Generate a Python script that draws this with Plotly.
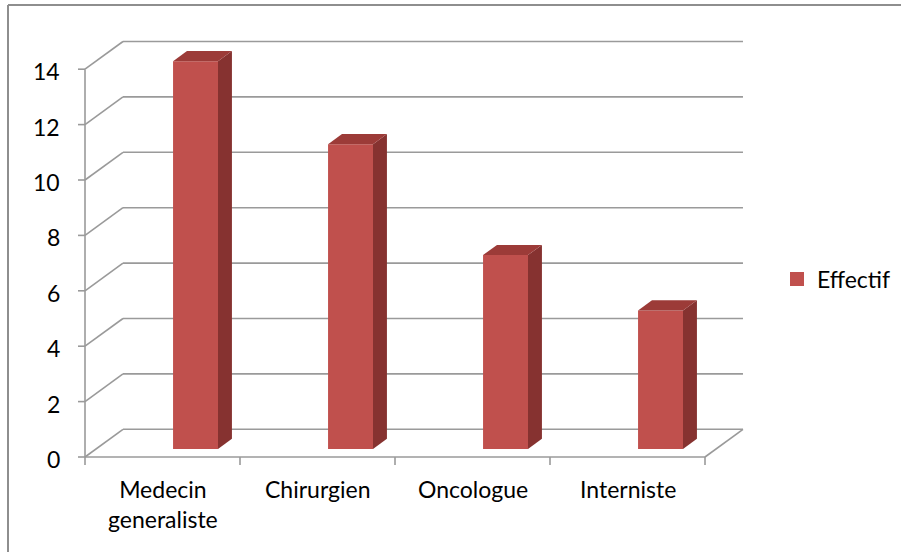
import plotly.graph_objects as go

# ---- data -------------------------------------------------------------
categories = ["Medecin<br>generaliste", "Chirurgien", "Oncologue", "Interniste"]
effectif = [14, 11, 7, 5]
y_ticks = [0, 2, 4, 6, 8, 10, 12, 14]
series_name = "Effectif"

# ---- styling ----------------------------------------------------------
FONT = "Lato"
FONT_SIZE = 23
FRONT = "#C0504D"
SIDE = "#863230"
TOP = "#9C3B38"
GRID = "#9A9A9A"
BORDER = "#8E8E8E"

W, H = 901, 552
PX_X, PX_Y = 155.0, 27.7          # pixels per category / per unit of value
ORIGIN = (85, 457)                # pixel position of (x=0, y=0) on the front plane

# oblique projection of the depth axis (0 = front, 1 = back wall)
DX, DY = 0.245, 1.0


def proj(x, y, d):
    return x + d * DX, y + d * DY


# bar placement within a category slot and along depth
BAR_X0, BAR_W = 0.497, 0.29
BAR_D0, BAR_D1 = 0.29, 0.657

n = len(categories)
y_top = max(y_ticks)

fig = go.Figure()


def poly(points, color):
    xs = [p[0] for p in points] + [points[0][0]]
    ys = [p[1] for p in points] + [points[0][1]]
    fig.add_trace(go.Scatter(x=xs, y=ys, mode="lines", fill="toself",
                             fillcolor=color, line=dict(width=0, color=color),
                             hoverinfo="skip", showlegend=False))


def lines(segments, color, width):
    xs, ys = [], []
    for (a, b) in segments:
        xs += [a[0], b[0], None]
        ys += [a[1], b[1], None]
    fig.add_trace(go.Scatter(x=xs, y=ys, mode="lines",
                             line=dict(color=color, width=width),
                             hoverinfo="skip", showlegend=False))


# ---- walls and floor --------------------------------------------------
segs = []
for v in y_ticks:
    segs.append((proj(0, v, 0), proj(0, v, 1)))        # side wall
    segs.append((proj(0, v, 1), proj(n, v, 1)))        # back wall
segs.append((proj(0, 0, 0), proj(n, 0, 0)))           # floor front edge
segs.append((proj(n, 0, 0), proj(n, 0, 1)))           # floor right edge
segs.append((proj(0, 0, 0), proj(0, y_top, 0)))       # value axis
tick_x = 7 / PX_X
tick_y = 8 / PX_Y
for v in y_ticks:
    segs.append(((-tick_x, v), (0, v)))
for i in range(n + 1):
    segs.append(((i, 0), (i, -tick_y)))
lines(segs, GRID, 1.6)

# ---- 3D columns -------------------------------------------------------
for i, v in enumerate(effectif):
    xa = i + BAR_X0
    xb = xa + BAR_W
    # front face
    poly([proj(xa, 0, BAR_D0), proj(xb, 0, BAR_D0),
          proj(xb, v, BAR_D0), proj(xa, v, BAR_D0)], FRONT)
    # right side face
    poly([proj(xb, 0, BAR_D0), proj(xb, 0, BAR_D1),
          proj(xb, v, BAR_D1), proj(xb, v, BAR_D0)], SIDE)
    # top face
    poly([proj(xa, v, BAR_D0), proj(xb, v, BAR_D0),
          proj(xb, v, BAR_D1), proj(xa, v, BAR_D1)], TOP)

# legend entry
fig.add_trace(go.Scatter(x=[None], y=[None], mode="markers", name=series_name,
                         marker=dict(symbol="square", size=14, color=FRONT)))

# ---- tick labels ------------------------------------------------------
for v in y_ticks:
    fig.add_annotation(x=-23 / PX_X, y=v, text=str(v), showarrow=False,
                       xanchor="right", yanchor="middle", yshift=-2,
                       font=dict(family=FONT, size=FONT_SIZE, color="#000"))
for i, c in enumerate(categories):
    fig.add_annotation(x=i + 0.5, y=-16 / PX_Y, text=c, showarrow=False,
                       xanchor="center", yanchor="top",
                       font=dict(family=FONT, size=FONT_SIZE, color="#000"))

# ---- chart border (top and left edges inside the frame) --------------
bx, by = 8 / W, 1 - 5 / H
fig.add_shape(type="line", xref="paper", yref="paper", x0=bx, y0=-0.05, x1=bx, y1=by,
              line=dict(color=BORDER, width=2))
fig.add_shape(type="line", xref="paper", yref="paper", x0=bx, y0=by, x1=1.05, y1=by,
              line=dict(color=BORDER, width=2))

fig.update_layout(
    width=W, height=H,
    margin=dict(l=0, r=0, t=0, b=0),
    paper_bgcolor="white", plot_bgcolor="white",
    xaxis=dict(range=[-ORIGIN[0] / PX_X, (W - ORIGIN[0]) / PX_X], visible=False,
               fixedrange=True),
    yaxis=dict(range=[-(H - ORIGIN[1]) / PX_Y, ORIGIN[1] / PX_Y], visible=False,
               fixedrange=True),
    showlegend=True,
    legend=dict(x=777 / W, y=1 - 279 / H, xanchor="left", yanchor="middle",
                font=dict(family=FONT, size=FONT_SIZE, color="#000"),
                bgcolor="rgba(0,0,0,0)", itemwidth=30),
)

fig.write_html("out.html")
